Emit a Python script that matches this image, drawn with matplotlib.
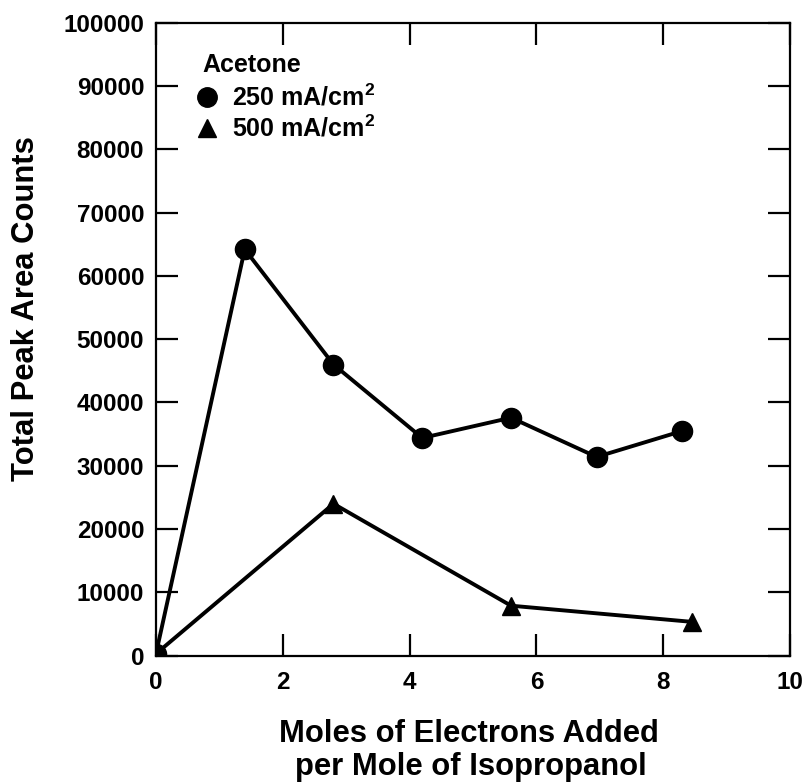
import matplotlib
matplotlib.use("Agg")
from matplotlib import pyplot as plt
import numpy as np

# Acetone peak area vs. charge passed, two current densities
x_250 = [0.0, 1.4, 2.8, 4.2, 5.6, 6.95, 8.3]
y_250 = [300, 64200, 46000, 34400, 37600, 31400, 35500]

x_500 = [0.0, 2.8, 5.6, 8.45]
y_500 = [300, 24000, 7900, 5350]

x_ticks = [0, 2, 4, 6, 8, 10]
y_ticks = np.arange(0, 100001, 10000)

fig = plt.figure(figsize=(8.09, 7.82), dpi=100)
ax = fig.add_axes([0.1928, 0.1615, 0.7837, 0.8095])

ax.plot(x_250, y_250, color="black", lw=2.8, marker="o", ms=14.5, zorder=3)
ax.plot(x_500, y_500, color="black", lw=2.8, marker="^", ms=13.5, zorder=3)

ax.set_xlim(0, 10)
ax.set_ylim(0, 100000)
ax.set_xticks(x_ticks)
ax.set_yticks(y_ticks)
ax.set_xticklabels([str(t) for t in x_ticks])
ax.set_yticklabels([str(t) for t in y_ticks])
ax.tick_params(direction="in", length=15.5, width=1.6, top=True, right=True,
               labelsize=17.5)
ax.tick_params(axis="x", pad=11)
ax.tick_params(axis="y", pad=8.5)
for lab in ax.get_xticklabels() + ax.get_yticklabels():
    lab.set_fontweight("bold")
    lab.set_family("Liberation Sans")
for sp in ax.spines.values():
    sp.set_linewidth(1.6)

lab_font = dict(family="Liberation Sans", fontweight="bold", fontsize=22.3)
fig.text(0.032, 0.606, "Total Peak Area Counts", rotation=90,
         ha="center", va="center", **lab_font)
fig.text(0.580, 0.0512, "Moles of Electrons Added",
         ha="center", va="baseline", **lab_font)
fig.text(0.582, 0.0095, "per Mole of Isopropanol",
         ha="center", va="baseline", **lab_font)

# key in the upper left
leg_font = dict(family="Liberation Sans", fontsize=18, fontweight="bold")
ax.text(0.0726, 0.933, "Acetone", transform=ax.transAxes, va="center", **leg_font)
ax.plot([0.0804], [0.8826], transform=ax.transAxes, marker="o", ms=14,
        color="black", clip_on=False)
ax.text(0.12, 0.8826, "250 mA/cm$^\\mathregular{2}$", transform=ax.transAxes,
        va="center", **leg_font)
ax.plot([0.0804], [0.8337], transform=ax.transAxes, marker="^", ms=13,
        color="black", clip_on=False)
ax.text(0.12, 0.8337, "500 mA/cm$^\\mathregular{2}$", transform=ax.transAxes,
        va="center", **leg_font)

fig.savefig("out.png", dpi=100)
